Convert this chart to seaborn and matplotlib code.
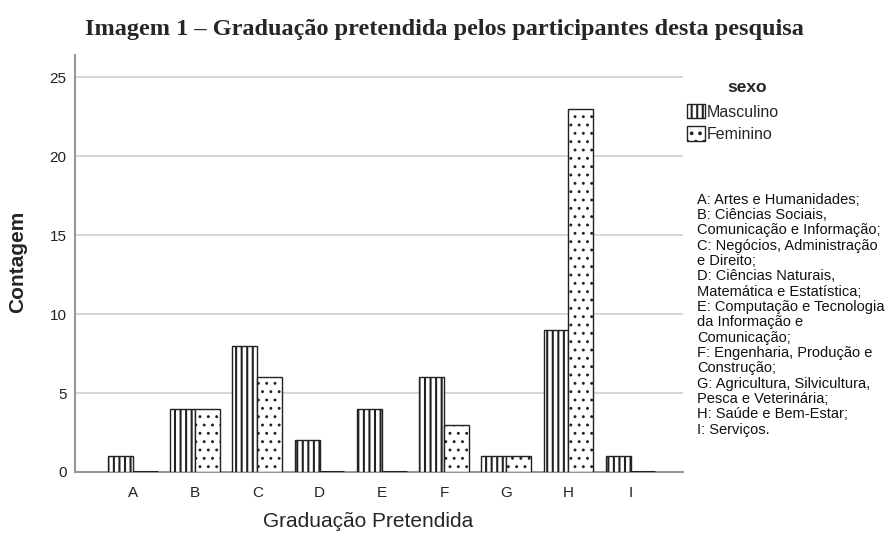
import matplotlib
matplotlib.use("Agg")
import matplotlib.pyplot as plt
import seaborn as sns
import pandas as pd
from matplotlib.patches import Patch

categorias = ["A", "B", "C", "D", "E", "F", "G", "H", "I"]
masculino = [1, 4, 8, 2, 4, 6, 1, 9, 1]
feminino = [0, 4, 6, 0, 0, 3, 1, 23, 0]
sexos = ["Masculino", "Feminino"]
yticks = [0, 5, 10, 15, 20, 25]
legenda_txt = ("A: Artes e Humanidades;\nB: Ciências Sociais,\nComunicação e Informação;\n"
               "C: Negócios, Administração\ne Direito;\nD: Ciências Naturais,\n"
               "Matemática e Estatística;\nE: Computação e Tecnologia\nda Informação e\n"
               "Comunicação;\nF: Engenharia, Produção e\nConstrução;\nG: Agricultura, Silvicultura,\n"
               "Pesca e Veterinária;\nH: Saúde e Bem-Estar;\nI: Serviços.")

df = pd.DataFrame({
    "cat": categorias * 2,
    "sexo": [sexos[0]] * len(categorias) + [sexos[1]] * len(categorias),
    "n": masculino + feminino,
})

sns.set_style("white")
plt.rcParams["font.family"] = ["Liberation Sans", "DejaVu Sans"]
plt.rcParams["hatch.color"] = "#8a8a8a"
plt.rcParams["hatch.linewidth"] = 1.5

fig = plt.figure(figsize=(8.88, 5.43), dpi=100)
ax = fig.add_axes([0.0845, 0.1308, 0.6845, 0.7679])

sns.barplot(data=df, x="cat", y="n", hue="sexo", hue_order=sexos,
            palette=["white", "white"], edgecolor="#222222", linewidth=1.0,
            width=0.8, gap=0, ax=ax, legend=False, zorder=3)

hatches = ["|||", ".."]
hatch_lw = [1.5, 0.9]
for cont, h, hl in zip(ax.containers, hatches, hatch_lw):
    for p in cont:
        p.set_hatch(h)
        if hasattr(p, "set_hatch_linewidth"):
            p.set_hatch_linewidth(hl)
        if p.get_height() == 0:
            p.set_linewidth(2.2)

ax.set_xlim(-0.93, 8.84)
ax.set_ylim(0, 26.4)
ax.set_yticks(yticks)
ax.yaxis.grid(True, color="#d0d0d0", linewidth=1.2, zorder=0)
ax.set_axisbelow(True)
for s in ["top", "right"]:
    ax.spines[s].set_visible(False)
ax.spines["left"].set_color("#999999")
ax.spines["left"].set_linewidth(1.5)
ax.spines["bottom"].set_color("#999999")
ax.spines["bottom"].set_linewidth(1.5)
ax.tick_params(axis="both", length=0, labelsize=11, colors="#222222")
ax.tick_params(axis="y", pad=6)
ax.tick_params(axis="x", pad=10)
ax.set_xlabel("")
ax.set_ylabel("")

fig.text(0.414, 0.04, "Graduação Pretendida", ha="center", va="center", fontsize=15)
fig.text(0.0203, 0.5175, "Contagem", ha="center", va="center", rotation=90,
         fontsize=15, fontweight="bold")

fig.text(0.5, 0.945, "Imagem 1 – Graduação pretendida pelos participantes desta pesquisa",
         ha="center", va="center", fontsize=17.5, fontweight="bold",
         family=["Liberation Serif", "DejaVu Serif"])

handles = []
for h, s, hl in zip(hatches, sexos, hatch_lw):
    hp = Patch(facecolor="white", edgecolor="#222222", hatch=h, label=s)
    if hasattr(hp, "set_hatch_linewidth"):
        hp.set_hatch_linewidth(hl)
    handles.append(hp)
leg = fig.legend(handles=handles, loc="upper left", bbox_to_anchor=(0.7736, 0.8085),
                 frameon=False, fontsize=11.5, handlelength=1.1, handleheight=1.0,
                 handletextpad=0.15, labelspacing=0.42, borderpad=0, borderaxespad=0)

fig.text(0.841, 0.838, "sexo", ha="center", va="center", fontsize=12.5, fontweight="bold")

fig.text(0.785, 0.645, legenda_txt, ha="left", va="top", fontsize=10.5,
         linespacing=1.12, color="#111111")

fig.savefig("out.png", dpi=100)
